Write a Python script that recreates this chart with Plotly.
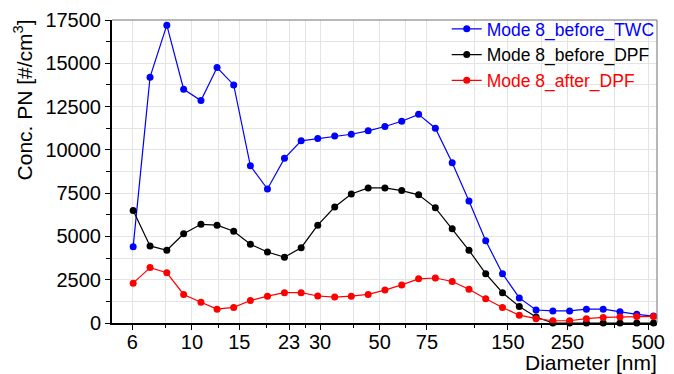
import plotly.graph_objects as go

# ---- data ----
diameter_nm = [6.04, 6.98, 8.06, 9.31, 10.8, 12.4, 14.3, 16.5, 19.1, 22.1, 25.5, 29.4,
               34.0, 39.2, 45.3, 52.3, 60.4, 69.8, 80.6, 93.1, 107.5, 124.1, 143.3, 165.5,
               191.1, 220.7, 254.8, 294.3, 339.8, 392.4, 453.2, 523.3]
before_twc = [4400, 14200, 17200, 13500, 12850, 14750, 13750, 9080, 7740, 9510, 10520, 10660,
              10800, 10900, 11100, 11350, 11650, 12050, 11250, 9250, 7050, 4750, 2850, 1450,
              750, 700, 700, 800, 800, 650, 500, 400]
before_dpf = [6500, 4450, 4200, 5150, 5700, 5650, 5300, 4550, 4100, 3800, 4350, 5650,
              6700, 7450, 7800, 7800, 7650, 7400, 6650, 5450, 4200, 2850, 1750, 950,
              350, 0, 0, 0, 0, 0, 0, 0]
after_dpf = [2300, 3200, 2900, 1650, 1200, 800, 900, 1300, 1550, 1750, 1750, 1560,
             1500, 1550, 1650, 1900, 2200, 2550, 2600, 2400, 1950, 1400, 900, 450,
             250, 130, 130, 250, 320, 350, 380, 380]

series_names = ["Mode 8_before_TWC", "Mode 8_before_DPF", "Mode 8_after_DPF"]
series_colors = ["#0000FF", "#000000", "#FF0000"]

x_tick_vals = [6, 10, 15, 23, 30, 50, 75, 150, 250, 500]
x_tick_text = ["6", "10", "15", "23", "30", "50", "75", "150", "250", "500"]
x_minor_vals = [8, 12.5, 19, 26.5, 40, 62.5, 112.5, 200, 375]

FONT = "Liberation Sans, Arial, sans-serif"
x_range = [0.7022, 2.7316]
y_range = [0, 17500]

fig = go.Figure()
for name, color, vals in zip(series_names, series_colors, [before_twc, before_dpf, after_dpf]):
    fig.add_trace(go.Scatter(
        x=diameter_nm, y=vals, mode="lines+markers",
        name=f'<span style="color:{color}">{name}</span>',
        line=dict(color=color, width=1.2),
        marker=dict(color=color, size=7),
        cliponaxis=False,
    ))

grid_col = "#e4e4e4"
fig.update_layout(
    width=674, height=374,
    margin=dict(l=112, r=9, t=17, b=51),
    paper_bgcolor="white", plot_bgcolor="white",
    font=dict(family=FONT, size=20, color="black"),
    showlegend=True,
    legend=dict(x=1.005, xanchor="right", y=1.03, yanchor="top",
                bgcolor="rgba(0,0,0,0)", font=dict(size=17.5, family=FONT),
                itemwidth=30, tracegroupgap=0),
    xaxis=dict(type="log", range=x_range,
               tickmode="array", tickvals=x_tick_vals, ticktext=x_tick_text,
               ticks="outside", ticklen=5, tickwidth=1, tickcolor="black",
               showline=True, linecolor="black", linewidth=2,
               showgrid=True, gridcolor=grid_col, gridwidth=1, zeroline=False,
               tickfont=dict(size=20, family=FONT), ticklabelstandoff=-5,
               minor=dict(tickmode="array", tickvals=x_minor_vals, ticks="outside",
                          ticklen=3, tickcolor="black", showgrid=True,
                          gridcolor=grid_col, gridwidth=1)),
    yaxis=dict(range=y_range, tickmode="linear", tick0=0, dtick=2500, tickformat="d",
               ticks="outside", ticklen=5, tickwidth=1, tickcolor="black",
               showline=True, linecolor="black", linewidth=2,
               showgrid=True, gridcolor=grid_col, gridwidth=1, zeroline=False,
               tickfont=dict(size=20, family=FONT), ticklabelstandoff=0,
               minor=dict(dtick=1250, tick0=0, ticks="outside", ticklen=4,
                          tickcolor="black", showgrid=True,
                          gridcolor=grid_col, gridwidth=1)),
    xaxis2=dict(type="log", range=x_range, overlaying="x", anchor="y", side="bottom",
                tickmode="array", tickvals=x_tick_vals, ticks="inside", ticklen=4,
                tickcolor="black", showticklabels=False, showgrid=False,
                showline=False, zeroline=False),
    yaxis2=dict(range=y_range, overlaying="y", anchor="x", side="left",
                tickmode="linear", tick0=0, dtick=2500, ticks="inside", ticklen=4,
                tickcolor="black", showticklabels=False, showgrid=False,
                showline=False, zeroline=False),
    shapes=[
        dict(type="line", xref="paper", yref="paper", x0=0, x1=1, y0=1, y1=1,
             line=dict(color="#707070", width=1), layer="above"),
        dict(type="line", xref="paper", yref="paper", x0=1, x1=1, y0=0, y1=1,
             line=dict(color="#707070", width=1), layer="above"),
    ],
    annotations=[
        dict(text="Conc. PN [#/cm<sup>3</sup>]", textangle=-90, xref="paper", yref="paper",
             x=-0.163, y=0.735, xanchor="center", yanchor="middle", showarrow=False,
             font=dict(size=21, family=FONT, color="black")),
        dict(text="Diameter [nm]", xref="paper", yref="paper",
             x=1.003, y=-0.131, xanchor="right", yanchor="middle", showarrow=False,
             font=dict(size=21, family=FONT, color="black")),
    ],
)

fig.write_html("out.html")
